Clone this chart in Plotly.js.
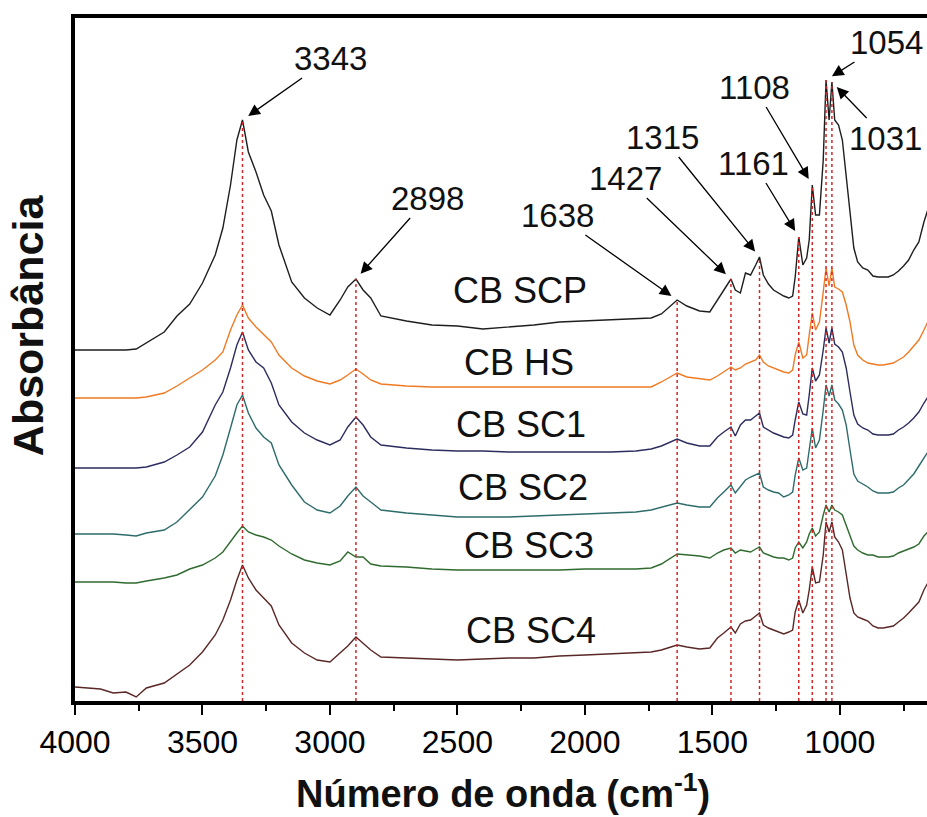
<!DOCTYPE html>
<html><head><meta charset="utf-8">
<script src="https://cdn.plot.ly/plotly-3.0.1.min.js"></script>
<style>html,body{margin:0;padding:0;background:#fff;} #chart{width:927px;height:817px;}</style>
</head><body><div id="chart"></div>
<script>
// Wavenumber grid (cm-1)
const wavenumber = [4000,3900,3850,3800,3760,3720,3650,3600,3550,3500,3450,3420,3390,3365,3343,3320,3290,3260,3230,3200,3150,3100,3050,3000,2960,2930,2898,2870,2840,2800,2700,2600,2500,2400,2300,2200,2100,2000,1900,1800,1740,1700,1638,1600,1550,1510,1480,1455,1427,1410,1390,1370,1350,1330,1315,1300,1280,1260,1240,1220,1200,1185,1175,1161,1145,1130,1120,1108,1095,1080,1065,1054,1042,1031,1020,1005,990,975,960,945,930,910,890,870,850,830,810,790,770,750,730,710,690,670,655];

// Absorbance (stacked, arbitrary units)
const cbSCP = [352,352,352,352,353,359,370,386,398,419,447,474,517,562,582,550,530,507,491,457,420,404,394,387,402,415,423,412,404,386,381,377,376,373,375,377,380,381,382,383,384,388,402,396,391,390,402,412,423,412,409,429,427,437,445,427,418,412,409,406,404,406,425,465,437,444,462,517,487,487,542,622,582,620,582,577,562,527,490,454,440,434,432,426,425,425,425,427,431,436,442,452,460,480,492];
const cbHS = [304,304,304,304,304,305,309,316,324,332,342,350,372,387,397,384,375,367,360,347,334,326,321,318,322,327,333,328,322,318,316,315,315,315,315,315,315,315,315,315,315,320,329,325,323,322,326,330,335,332,334,338,340,342,347,340,336,334,332,330,329,332,347,360,344,347,367,389,372,380,410,434,416,434,415,413,410,397,380,357,347,342,339,338,337,337,338,339,342,345,350,356,362,372,380];
const cbSC1 = [234,234,234,234,234,235,240,247,255,270,297,310,334,357,370,352,340,334,319,297,280,269,262,257,262,275,285,277,265,257,254,252,251,251,250,250,250,250,250,251,253,256,263,259,256,256,265,270,275,266,277,282,282,286,289,275,272,269,267,265,264,267,282,300,288,287,307,334,321,327,352,374,359,374,358,355,350,334,310,287,278,274,272,268,267,267,267,268,272,275,279,284,290,299,305];
const cbSC2 = [168,168,168,167,166,169,172,180,192,205,226,247,274,297,307,289,274,265,259,237,217,200,192,189,196,206,215,206,200,192,189,187,185,185,185,186,187,188,189,190,192,195,199,197,195,195,204,210,217,209,215,222,225,227,229,215,212,210,209,205,207,210,227,244,232,234,252,274,254,262,292,317,306,317,302,298,292,277,252,228,221,218,215,211,209,209,209,210,214,217,223,228,236,244,250];
const cbSC3 = [120,120,120,119,119,121,124,127,133,137,144,150,161,169,176,170,167,165,162,156,148,142,139,137,141,150,145,145,138,136,135,133,132,132,132,132,132,133,133,133,134,138,148,147,146,144,149,152,154,149,152,151,150,153,155,149,147,145,144,144,142,144,154,160,154,160,168,174,166,170,187,197,190,197,192,190,187,177,165,156,152,149,147,147,145,145,145,146,149,151,153,155,158,166,170];
const cbSC4 = [15,13,9,10,5,14,19,28,37,50,67,82,102,122,137,124,112,104,96,77,59,49,42,40,49,56,65,59,52,45,44,43,42,43,44,44,46,47,48,49,50,52,57,55,53,54,64,69,75,69,78,81,82,86,89,77,74,72,70,68,70,72,90,102,89,97,112,135,119,120,147,180,170,180,165,160,152,130,104,89,85,83,81,76,74,74,75,76,80,84,89,94,100,112,119];

const seriesNames = ['CB SCP','CB HS','CB SC1','CB SC2','CB SC3','CB SC4'];
const seriesValues = [cbSCP, cbHS, cbSC1, cbSC2, cbSC3, cbSC4];
const seriesColors = ['#1e1e1e','#f07a22','#2c2c5e','#2e6b6b','#2f6a2f','#5a2727'];

// Marked band positions (cm-1)
const peakLabels = [3343, 2898, 1638, 1427, 1315, 1161, 1108, 1054, 1031];

// Layout helpers (positions only)
const labelOffsets = [[88,-62],[72,-81],[-120,-85],[-105,-101],[-97,-120],[-45,-74],[-58,-98],[60,-38],[54,56]];
const seriesLabelPos = [[2253,412],[2257,340],[2249,278],[2241,215],[2218,157],[2210,72]];

const FONT = 'Liberation Sans, Arial, sans-serif';
const Y_RANGE = [1, 684];

const traces = seriesNames.map((n, i) => ({
  type: 'scatter', mode: 'lines', name: n,
  x: wavenumber, y: seriesValues[i],
  line: {color: seriesColors[i], width: 1.4},
  hoverinfo: 'skip'
}));

const shapes = peakLabels.map(p => ({
  type: 'line', xref: 'x', yref: 'y',
  x0: p, x1: p, y0: Y_RANGE[0], y1: cbSCP[wavenumber.indexOf(p)],
  line: {color: '#d42525', width: 1.5, dash: 'dot'}, layer: 'above'
}));

const annotations = [];
peakLabels.forEach((p, i) => {
  annotations.push({
    x: p, y: cbSCP[wavenumber.indexOf(p)], xref: 'x', yref: 'y',
    text: String(p), showarrow: true,
    ax: labelOffsets[i][0], ay: labelOffsets[i][1],
    arrowhead: 2, arrowsize: 1.8, arrowwidth: 1.3, arrowcolor: '#000',
    standoff: 7,
    font: {family: FONT, size: 33, color: '#111'}
  });
});
seriesNames.forEach((n, i) => {
  annotations.push({
    x: seriesLabelPos[i][0], y: seriesLabelPos[i][1], xref: 'x', yref: 'y',
    text: n, showarrow: false, xanchor: 'center', yanchor: 'middle',
    font: {family: FONT, size: 36, color: '#111'}
  });
});
// Axis titles
annotations.push({
  xref: 'paper', yref: 'paper', x: 0.502, y: -0.1318,
  xanchor: 'center', yanchor: 'middle', showarrow: false,
  text: '<b>Número de onda (cm<sup>-1</sup>)</b>',
  font: {family: FONT, size: 38, color: '#111'}
});
annotations.push({
  xref: 'paper', yref: 'paper', x: -0.055, y: 0.5505,
  xanchor: 'center', yanchor: 'middle', showarrow: false, textangle: -90,
  text: '<b>Absorbância</b>',
  font: {family: FONT, size: 43, color: '#111'}
});

const layout = {
  width: 927, height: 817,
  margin: {l: 75, r: 0, t: 18, b: 116},
  paper_bgcolor: '#fff', plot_bgcolor: '#fff',
  showlegend: false, hovermode: false,
  xaxis: {
    range: [4000, 658], autorange: false,
    tick0: 0, dtick: 500,
    ticks: 'outside', ticklen: 10, tickwidth: 2, tickcolor: '#000',
    minor: {dtick: 250, ticks: 'outside', ticklen: 6, tickwidth: 2, tickcolor: '#000', showgrid: false},
    showline: true, linewidth: 4, linecolor: '#000', mirror: true,
    showgrid: false, zeroline: false,
    tickfont: {family: FONT, size: 32, color: '#000'}
  },
  yaxis: {
    range: Y_RANGE, autorange: false,
    showline: true, linewidth: 4, linecolor: '#000',
    showticklabels: false, ticks: '', showgrid: false, zeroline: false
  },
  shapes: shapes,
  annotations: annotations
};

Plotly.newPlot('chart', traces, layout, {displayModeBar: false, staticPlot: true});
</script>
</body></html>
